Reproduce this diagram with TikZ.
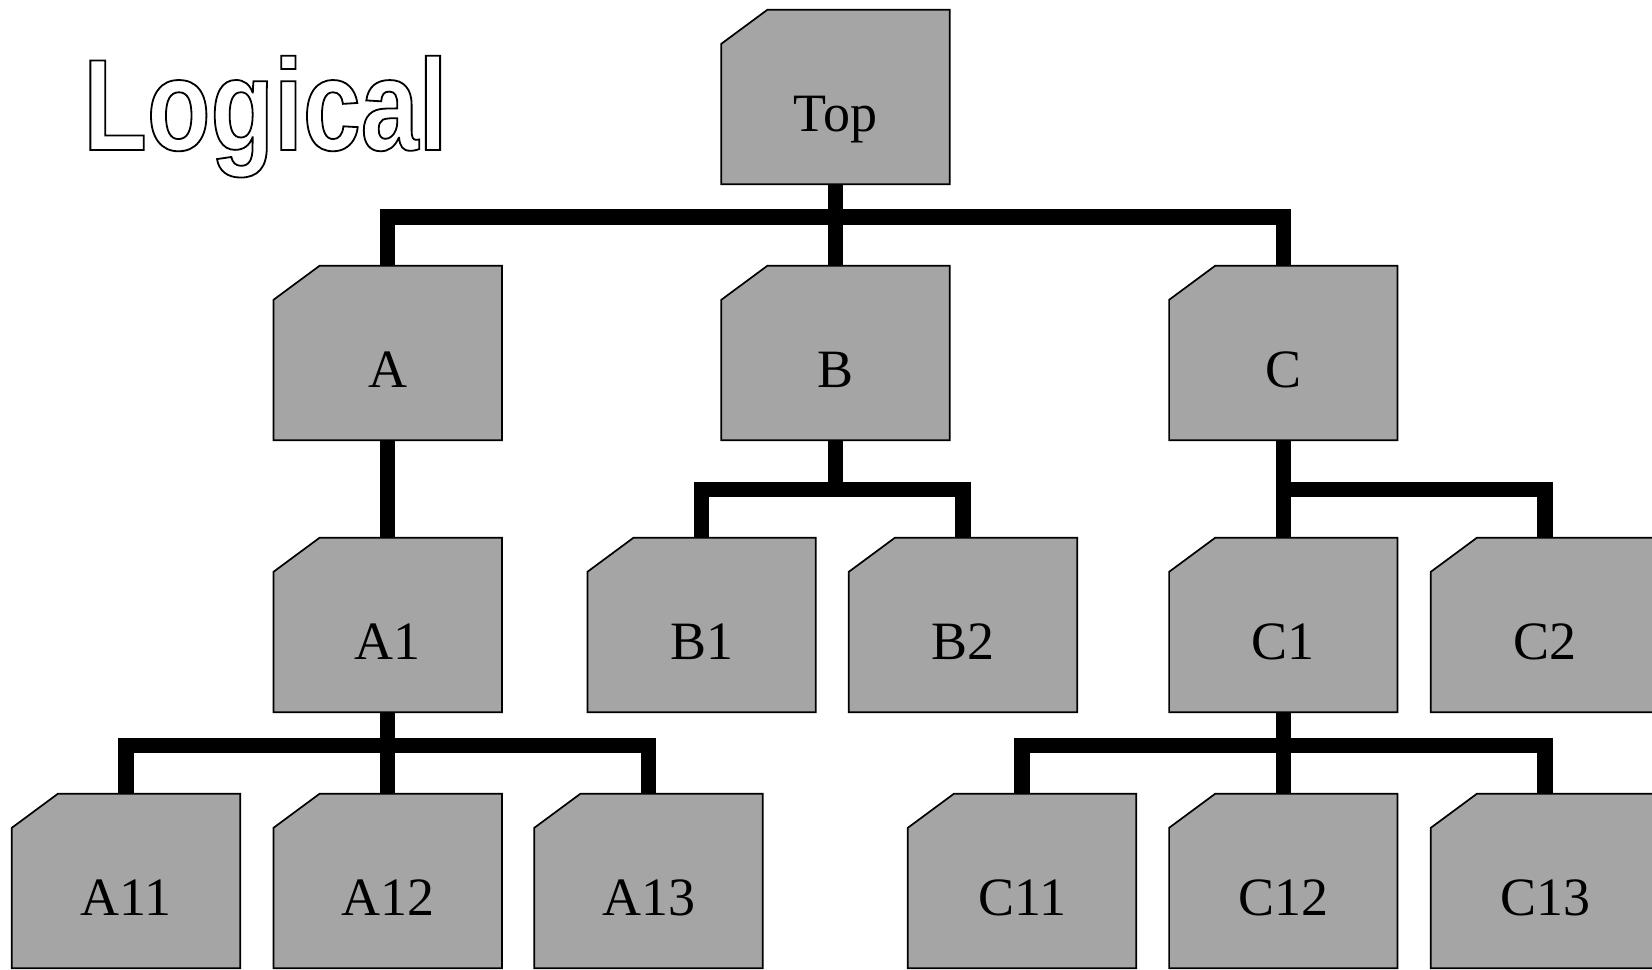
\documentclass[tikz,border=0pt]{standalone}
\usepackage{fontspec}
\setmainfont{Liberation Serif}
\newfontfamily\logofont{Liberation Sans Bold}[FakeStretch=0.8]
\usetikzlibrary{calc,backgrounds}
\definecolor{boxgray}{RGB}{165,165,165}
\tikzset{
  orgbox/.style={rectangle, inner sep=0pt, outer sep=0pt, minimum width=114.2pt, minimum height=87.2pt},
  orgedge/.style={draw=black, fill=boxgray, line width=0.85pt, line join=miter},
  orgtext/.style={inner sep=0pt, anchor=base, font=\fontsize{27}{30}\selectfont},
  conn/.style={draw=black, line width=7.7pt, line join=miter},
}
\newcommand\orgdraw[2]{%
  \path[orgedge] ($(#1.north west)+(0,34)$) -- ($(#1.north west)+(46,0)$) -- (#1.north east) -- (#1.south east) -- (#1.south west) -- cycle;
  \node[orgtext] (#1-label) at ($(#1.center)+(0,34.5)$) {#2};
}
\begin{document}
\begin{tikzpicture}[x=0.5pt,y=-0.5pt]
\useasboundingbox (0,0) rectangle (1652,969);
% box frames
\node[orgbox] (Top) at (835.5,97) {};
\node[orgbox] (A) at (387.7,353) {};
\node[orgbox] (B) at (835.5,353) {};
\node[orgbox] (C) at (1283.3,353) {};
\node[orgbox] (A1) at (387.7,625) {};
\node[orgbox] (B1) at (701.6,625) {};
\node[orgbox] (B2) at (963,625) {};
\node[orgbox] (C1) at (1283.3,625) {};
\node[orgbox] (C2) at (1545,625) {};
\node[orgbox] (A11) at (126,881) {};
\node[orgbox] (A12) at (387.7,881) {};
\node[orgbox] (A13) at (648.5,881) {};
\node[orgbox] (C11) at (1022,881) {};
\node[orgbox] (C12) at (1283.3,881) {};
\node[orgbox] (C13) at (1545,881) {};
% bus coordinates
\coordinate (topbus) at (835.5,217);
\coordinate (bbus) at (835.5,489.5);
\coordinate (cbus) at (1283.3,489.5);
\coordinate (a1bus) at (387.7,745.5);
\coordinate (c1bus) at (1283.3,745.5);
% connectors
\begin{scope}[on background layer]
  \draw[conn] (A.north) |- (topbus) -| (C.north);
  \draw[conn] (Top.south) -- (B.north);
  \draw[conn] (B1.north) |- (bbus) -| (B2.north);
  \draw[conn] (B.south) -- (bbus);
  \draw[conn] (A.south) -- (A1.north);
  \draw[conn] (C.south) -- (C1.north);
  \draw[conn] (cbus) -| (C2.north);
  \draw[conn] (A11.north) |- (a1bus) -| (A13.north);
  \draw[conn] (A1.south) -- (A12.north);
  \draw[conn] (C11.north) |- (c1bus) -| (C13.north);
  \draw[conn] (C1.south) -- (C12.north);
\end{scope}
% boxes
\orgdraw{Top}{Top}
\orgdraw{A}{A}
\orgdraw{B}{B}
\orgdraw{C}{C}
\orgdraw{A1}{A1}
\orgdraw{B1}{B1}
\orgdraw{B2}{B2}
\orgdraw{C1}{C1}
\orgdraw{C2}{C2}
\orgdraw{A11}{A11}
\orgdraw{A12}{A12}
\orgdraw{A13}{A13}
\orgdraw{C11}{C11}
\orgdraw{C12}{C12}
\orgdraw{C13}{C13}
% title
\node[anchor=base west, inner sep=0pt, font=\logofont\fontsize{65}{70}\selectfont] (logo) at (83,150)
  {\special{pdf:code 1 Tr 0.9 w}Logical\special{pdf:code 0 Tr}};
\end{tikzpicture}
\end{document}
